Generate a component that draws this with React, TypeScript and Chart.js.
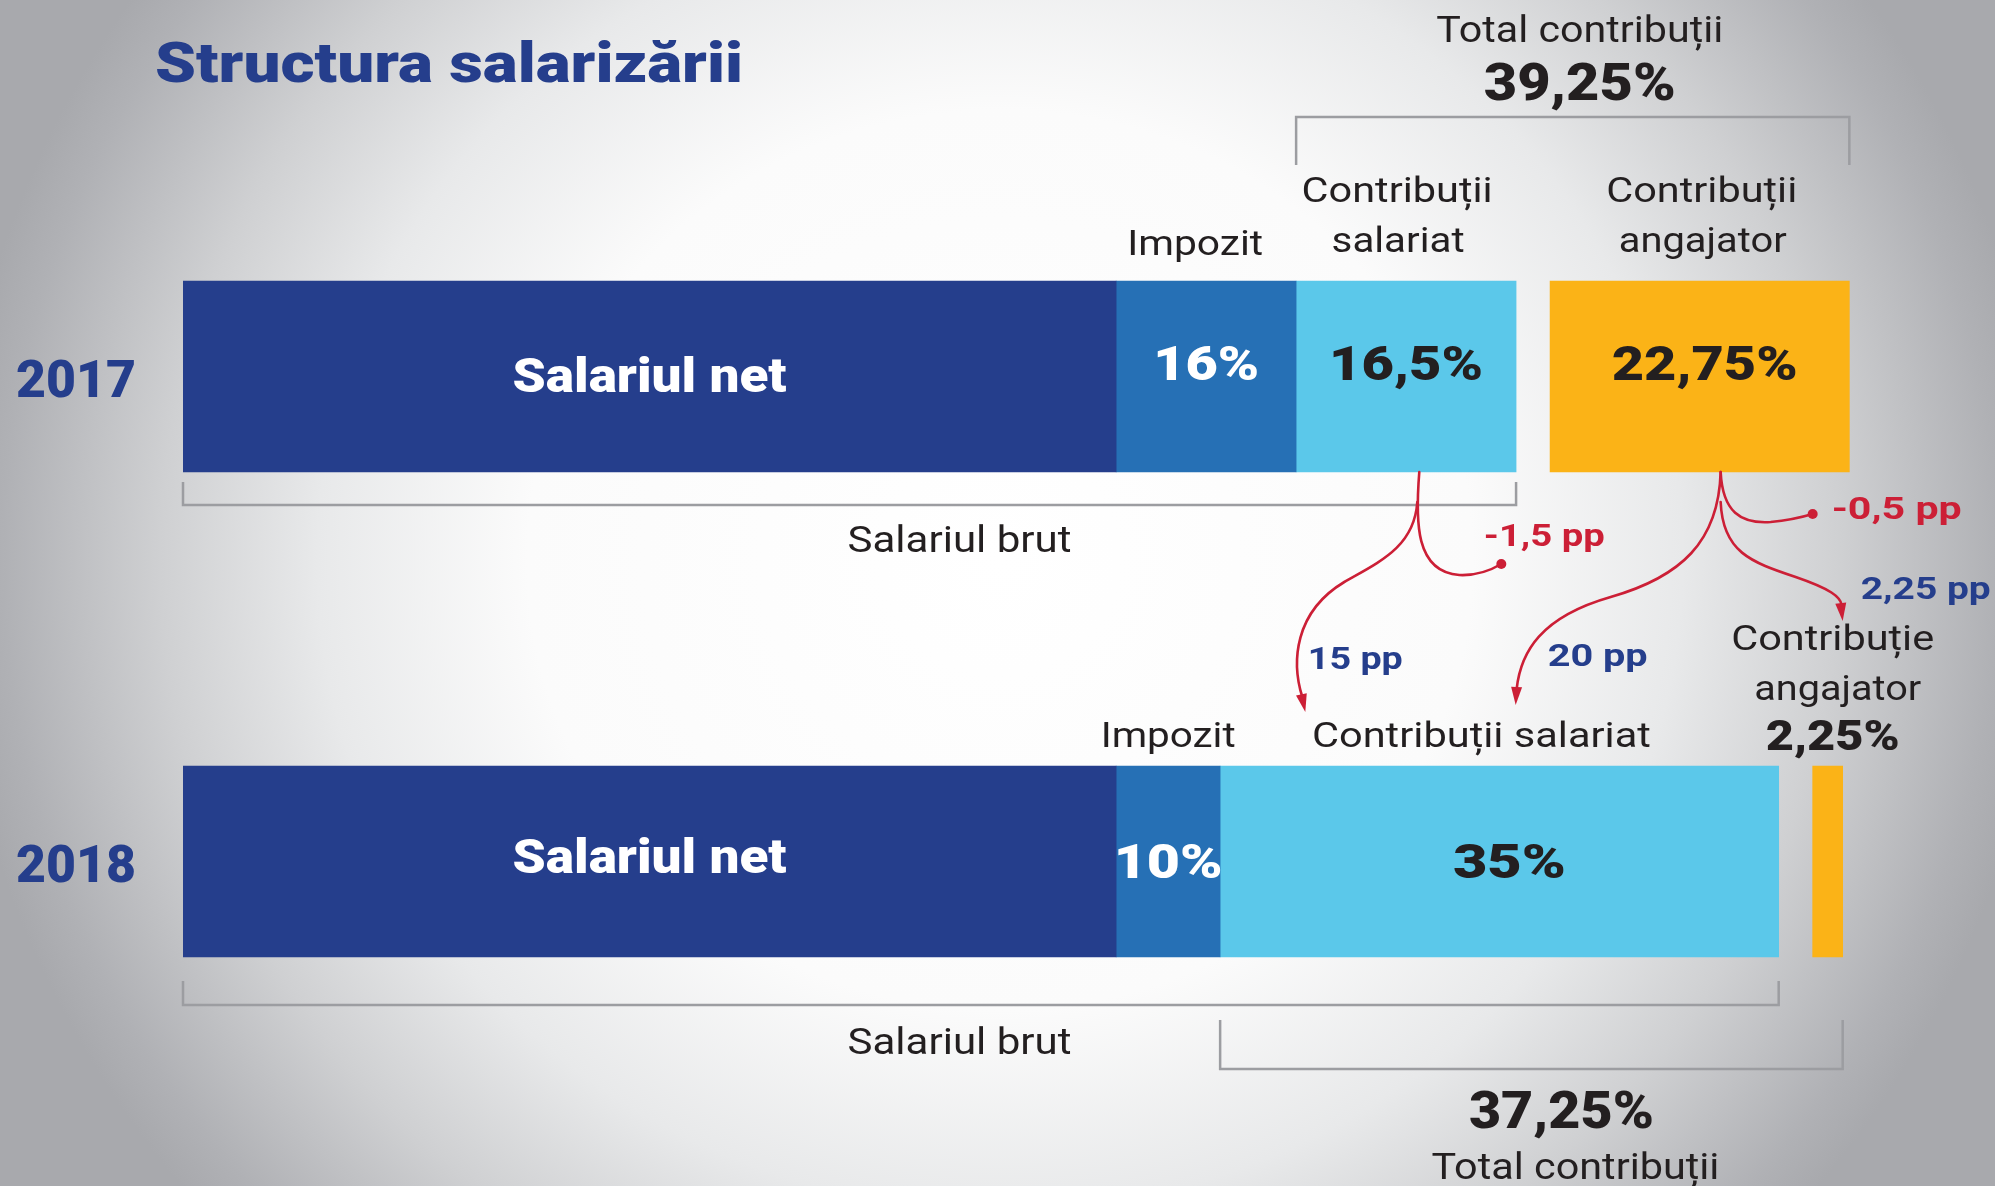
import React, { useEffect, useRef } from 'react';
import { Chart, registerables } from 'chart.js';

Chart.register(...registerables);

// ---------- data (units: 2017 gross salary = 100) ----------
const years = ['2017', '2018'];
const netSalary = [70, 70];
const incomeTax = [13.5, 7.8];
const employeeContrib = [16.5, 41.9];
const spacer = [2.55, 2.55];
const employerContrib = [22.45, 2.25];

const netLabels = ['Salariul net', 'Salariul net'];
const taxLabels = ['16%', '10%'];
const employeeLabels = ['16,5%', '35%'];
const employerLabels = ['22,75%', ''];
const totalContribLabels = ['39,25%', '37,25%'];
const changeLabels = ['-1,5 pp', '15 pp', '-0,5 pp', '20 pp', '2,25 pp'];

// ---------- styles ----------
const NAVY = '#253e8c';
const MID = '#2670b5';
const LIGHT = '#5bc8ea';
const ORANGE = '#fbb317';
const DARK = '#231f20';
const RED = '#cc1f36';
const GREY = '#9c9da1';
const FAMILY = 'Roboto, "Noto Sans", sans-serif';

function txt(
  ctx: CanvasRenderingContext2D,
  s: string,
  x: number,
  y: number,
  size: number,
  weight: number,
  color: string,
  width?: number,
  align: 'center' | 'left' = 'center'
) {
  if (!s) return;
  ctx.save();
  ctx.font = `${weight} ${size}px ${FAMILY}`;
  ctx.fillStyle = color;
  ctx.textBaseline = 'alphabetic';
  ctx.textAlign = 'left';
  const w = ctx.measureText(s).width;
  const sx = width ? width / w : 1;
  const left = align === 'center' ? x - (w * sx) / 2 : x;
  ctx.translate(left, y);
  ctx.scale(sx, 1);
  ctx.fillText(s, 0, 0);
  ctx.restore();
}

function arrowHead(ctx: CanvasRenderingContext2D, fx: number, fy: number, tx: number, ty: number) {
  const a = Math.atan2(ty - fy, tx - fx);
  const L = 18;
  const W = 5.5;
  const bx = tx - L * Math.cos(a);
  const by = ty - L * Math.sin(a);
  ctx.beginPath();
  ctx.moveTo(tx, ty);
  ctx.lineTo(bx + W * Math.sin(a), by - W * Math.cos(a));
  ctx.lineTo(bx - W * Math.sin(a), by + W * Math.cos(a));
  ctx.closePath();
  ctx.fill();
}

function dot(ctx: CanvasRenderingContext2D, x: number, y: number) {
  ctx.beginPath();
  ctx.arc(x, y, 5, 0, Math.PI * 2);
  ctx.fill();
}

const annotations = {
  id: 'annotations',
  afterDatasetsDraw(chart: any) {
    const ctx: CanvasRenderingContext2D = chart.ctx;
    const xs = chart.scales.x;
    const ys = chart.scales.y;
    const el = (d: number, j: number) =>
      chart.getDatasetMeta(d).data[j].getProps(['x', 'base', 'y', 'height'], true);
    const mid = (b: any) => (b.x + b.base) / 2;

    // title
    txt(ctx, 'Structura salarizării', 155, 82, 56, 900, NAVY, 588, 'left');

    const netOff = [15, 11];
    const pctOff = [3, 16];
    const netW = [274, 274];
    const taxW = [106, 109];
    const empW = [154, 113];
    const emrW = [186, 0];

    for (let j = 0; j < years.length; j++) {
      const cy = ys.getPixelForValue(j);
      txt(ctx, years[j], 76, cy + 20, 52, 900, NAVY, 120);
      const n = el(0, j);
      const t = el(1, j);
      const s = el(2, j);
      const e = el(4, j);
      txt(ctx, netLabels[j], mid(n), n.y + netOff[j], 48, 900, '#ffffff', netW[j]);
      txt(ctx, taxLabels[j], mid(t), t.y + pctOff[j], 49, 900, '#ffffff', taxW[j]);
      txt(ctx, employeeLabels[j], mid(s) + (j === 1 ? 10 : 0), s.y + pctOff[j], 49, 900, DARK, empW[j]);
      txt(ctx, employerLabels[j], mid(e) + 5, e.y + pctOff[j], 49, 900, DARK, emrW[j]);
    }

    const n17 = el(0, 0), t17 = el(1, 0), s17 = el(2, 0), e17 = el(4, 0);
    const n18 = el(0, 1), t18 = el(1, 1), s18 = el(2, 1), e18 = el(4, 1);
    const top17 = n17.y - n17.height / 2;
    const bot17 = n17.y + n17.height / 2;
    const top18 = n18.y - n18.height / 2;
    const bot18 = n18.y + n18.height / 2;

    // brackets
    ctx.save();
    ctx.strokeStyle = GREY;
    ctx.lineWidth = 2.5;
    const bracket = (x1: number, x2: number, yLine: number, yTick: number) => {
      ctx.beginPath();
      ctx.moveTo(x1, yTick);
      ctx.lineTo(x1, yLine);
      ctx.lineTo(x2, yLine);
      ctx.lineTo(x2, yTick);
      ctx.stroke();
    };
    bracket(s17.base, e17.x, top17 - 164, top17 - 116);
    bracket(n17.base, s17.x, bot17 + 33, bot17 + 10);
    bracket(n18.base, s18.x, bot18 + 48, bot18 + 24);
    bracket(s18.base, e18.x, bot18 + 112, bot18 + 63);
    ctx.restore();

    // header texts 2017
    const topMid = (s17.base + e17.x) / 2;
    txt(ctx, 'Total contribuții', topMid + 7, top17 - 239, 37, 400, DARK, 287);
    txt(ctx, totalContribLabels[0], topMid + 7, top17 - 181, 52, 900, DARK, 192);
    txt(ctx, 'Contribuții', mid(s17) - 9, top17 - 79, 35, 400, DARK, 191);
    txt(ctx, 'salariat', mid(s17) - 8, top17 - 29, 35, 400, DARK, 133);
    txt(ctx, 'Contribuții', mid(e17) + 2, top17 - 79, 35, 400, DARK, 191);
    txt(ctx, 'angajator', mid(e17) + 3, top17 - 29, 35, 400, DARK, 168);
    txt(ctx, 'Impozit', mid(t17) - 11, top17 - 26, 35, 400, DARK, 136);

    // brut labels
    const brutX = xs.getPixelForValue(50);
    txt(ctx, 'Salariul brut', brutX - 2, bot17 + 80, 36, 400, DARK, 224, 'left');
    txt(ctx, 'Salariul brut', brutX - 2, bot18 + 97, 36, 400, DARK, 224, 'left');

    // header texts 2018
    txt(ctx, 'Impozit', mid(t18), top18 - 19, 35, 400, DARK, 135);
    txt(ctx, 'Contribuții salariat', mid(s18) - 18, top18 - 19, 35, 400, DARK, 339);
    txt(ctx, 'Contribuție', mid(e18) + 5, top18 - 116, 35, 400, DARK, 203);
    txt(ctx, 'angajator', mid(e18) + 10, top18 - 66, 35, 400, DARK, 167);
    txt(ctx, '2,25%', mid(e18) + 5, top18 - 16, 43, 900, DARK, 134);

    // bottom total
    const botMid = (s18.base + e18.x) / 2;
    txt(ctx, totalContribLabels[1], botMid + 30, bot18 + 171, 52, 900, DARK, 185);
    txt(ctx, 'Total contribuții', botMid + 44, bot18 + 222, 37, 400, DARK, 288);

    // arrows
    const ax = s17.base + 0.56 * (s17.x - s17.base);
    const ay = bot17;
    const bx = e17.base + 0.57 * (e17.x - e17.base);
    const by = bot17;
    ctx.save();
    ctx.strokeStyle = RED;
    ctx.fillStyle = RED;
    ctx.lineWidth = 2.6;
    ctx.lineCap = 'round';

    // A: right branch to dot
    ctx.beginPath();
    ctx.moveTo(ax, ay);
    ctx.bezierCurveTo(ax - 4, ay + 50, ax - 4, ay + 100, ax + 40, ay + 103);
    ctx.quadraticCurveTo(ax + 62, ay + 104, ax + 82, ay + 92);
    ctx.stroke();
    dot(ctx, ax + 82, ay + 92);
    // A: left branch arrow
    ctx.beginPath();
    ctx.moveTo(ax - 2, ay + 30);
    ctx.bezierCurveTo(ax - 5, ay + 75, ax - 40, ay + 90, ax - 75, ay + 110);
    ctx.bezierCurveTo(ax - 125, ay + 140, ax - 128, ay + 190, ax - 117, ay + 225);
    ctx.stroke();
    arrowHead(ctx, ax - 118, ay + 222, ax - 114, ay + 240);

    // B: right-up branch to dot
    ctx.beginPath();
    ctx.moveTo(bx, by);
    ctx.bezierCurveTo(bx + 2, by + 40, bx + 20, by + 52, bx + 50, by + 50);
    ctx.quadraticCurveTo(bx + 72, by + 48, bx + 92, by + 42);
    ctx.stroke();
    dot(ctx, bx + 92, by + 42);
    // B: left branch arrow
    ctx.beginPath();
    ctx.moveTo(bx, by);
    ctx.bezierCurveTo(bx - 2, by + 70, bx - 40, by + 105, bx - 110, by + 125);
    ctx.bezierCurveTo(bx - 180, by + 145, bx - 200, by + 180, bx - 204, by + 217);
    ctx.stroke();
    arrowHead(ctx, bx - 204, by + 214, bx - 205, by + 233);
    // B: right-down branch arrow
    ctx.beginPath();
    ctx.moveTo(bx, by + 30);
    ctx.bezierCurveTo(bx + 2, by + 80, bx + 30, by + 90, bx + 75, by + 105);
    ctx.bezierCurveTo(bx + 110, by + 117, bx + 120, by + 125, bx + 121, by + 133);
    ctx.stroke();
    arrowHead(ctx, bx + 120, by + 130, bx + 122, by + 149);
    ctx.restore();

    // change labels
    txt(ctx, changeLabels[0], ax + 125, ay + 74, 32, 700, RED, 121);
    txt(ctx, changeLabels[1], ax - 64, ay + 197, 32, 700, NAVY, 95);
    txt(ctx, changeLabels[2], bx + 176, by + 47, 32, 700, RED, 130);
    txt(ctx, changeLabels[3], bx - 123, by + 194, 32, 700, NAVY, 100);
    txt(ctx, changeLabels[4], bx + 205, by + 127, 32, 700, NAVY, 130);
  },
};

export default function App() {
  const ref = useRef<HTMLCanvasElement>(null);
  useEffect(() => {
    document.body.style.margin = '0';
    const canvas = ref.current!;
    const chart = new Chart(canvas, {
      type: 'bar',
      data: {
        labels: years,
        datasets: [
          { label: 'Salariul net', data: netSalary, backgroundColor: NAVY },
          { label: 'Impozit', data: incomeTax, backgroundColor: MID },
          { label: 'Contribuții salariat', data: employeeContrib, backgroundColor: LIGHT },
          { label: '', data: spacer, backgroundColor: 'rgba(0,0,0,0)' },
          { label: 'Contribuții angajator', data: employerContrib, backgroundColor: ORANGE },
        ],
      },
      options: {
        indexAxis: 'y',
        responsive: false,
        maintainAspectRatio: false,
        devicePixelRatio: 1,
        animation: false,
        datasets: { bar: { barThickness: 191, borderWidth: 0 } },
        layout: { padding: { left: 183, right: 79, top: 134, bottom: 82 } },
        scales: {
          x: { type: 'linear', stacked: true, min: 0, max: 130, display: false },
          y: { type: 'category', stacked: true, display: false, offset: true },
        },
        plugins: { legend: { display: false }, tooltip: { enabled: false } },
      },
      plugins: [annotations],
    } as any);
    return () => chart.destroy();
  }, []);
  return (
    <div
      style={{
        position: 'absolute',
        left: 0,
        top: 0,
        width: 1995,
        height: 1186,
        overflow: 'hidden',
        background:
          'radial-gradient(ellipse 1050px 1000px at 1000px 560px, #ffffff 0%, #fbfbfb 45%, #e8e9ea 65%, #cfd0d2 80%, #b0b1b5 95%, #a8a9ad 100%)',
      }}
    >
      <canvas ref={ref} width={1995} height={1186} style={{ display: 'block', width: 1995, height: 1186 }} />
    </div>
  );
}
